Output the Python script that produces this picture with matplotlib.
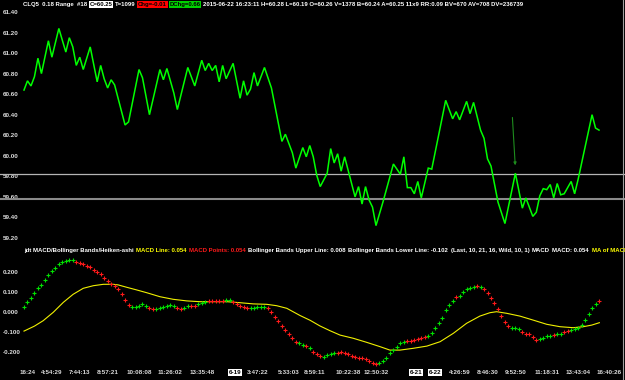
"""CLQ5 レンジ足チャート + MACD/ボリンジャー/平均足 パネルの再現。"""
import matplotlib
matplotlib.use("Agg")
import matplotlib.pyplot as plt
import numpy as np
from matplotlib.lines import Line2D

plt.rcParams["font.family"] = ["Liberation Sans", "DejaVu Sans"]
plt.rcParams["font.weight"] = "bold"

W, H = 625, 380
BAR_PX = 3.485      # 1本あたりのピクセル幅
FIRST_BAR_PX = 24   # 最初の足の x 位置

# --- 上段: 終値ライン（折れ点のみ） ---
price_bar = [0, 1, 2, 3, 4, 5, 7, 8, 10, 12, 13, 14, 15, 16, 17, 19, 21, 22, 23, 24,
             25, 26, 29, 30, 33, 34, 36, 39, 40, 41, 43, 44, 47, 49, 51, 52, 53, 54, 55, 56,
             57, 58, 60, 62, 63, 64, 65, 66, 67, 69, 71, 74, 75, 77, 78, 80, 81, 82, 83, 84,
             85, 87, 88, 89, 90, 91, 92, 95, 96, 97, 98, 99, 100, 101, 103, 106, 108, 109, 110, 111,
             112, 113, 114, 116, 117, 121, 123, 124, 125, 127, 128, 129, 131, 132, 133, 134, 136, 138, 141, 143,
             144, 146, 147, 148, 149, 150, 151, 152, 153, 154, 155, 157, 158, 159, 163, 164, 165]
price_close = [60.64, 60.73, 60.68, 60.77, 60.95, 60.80, 61.12, 60.96, 61.24, 61.01, 61.15, 61.06, 60.88, 60.96, 60.84, 61.06, 60.72, 60.88, 60.75, 60.66,
               60.74, 60.69, 60.30, 60.33, 60.84, 60.76, 60.40, 60.84, 60.74, 60.85, 60.61, 60.45, 60.86, 60.68, 60.93, 60.83, 60.90, 60.83, 60.88, 60.72,
               60.88, 60.75, 60.90, 60.56, 60.73, 60.59, 60.65, 60.81, 60.68, 60.86, 60.66, 60.14, 60.21, 60.03, 59.88, 60.08, 59.99, 60.10, 59.99, 59.81,
               59.70, 59.83, 60.07, 59.93, 60.02, 59.85, 59.99, 59.60, 59.70, 59.53, 59.70, 59.57, 59.50, 59.32, 59.55, 59.92, 59.82, 59.99, 59.69, 59.69,
               59.63, 59.75, 59.59, 59.88, 59.87, 60.54, 60.36, 60.43, 60.35, 60.53, 60.41, 60.52, 60.25, 60.17, 59.97, 59.90, 59.55, 59.34, 59.83, 59.49,
               59.59, 59.41, 59.45, 59.61, 59.68, 59.67, 59.72, 59.59, 59.73, 59.62, 59.63, 59.75, 59.63, 59.77, 60.40, 60.27, 60.25]
band_levels = [59.82, 59.58]
alert_bar = [140.1, 141.0]
alert_price = [60.40, 59.88]
price_ticks = [59.20, 59.40, 59.60, 59.80, 60.00, 60.20, 60.40, 60.60, 60.80, 61.00, 61.20, 61.40]

# --- 下段: MACD ポイント（足ごと）と色 ---
macd_points = [0.022, 0.050, 0.070, 0.095, 0.117, 0.135, 0.159, 0.184, 0.205, 0.220,
               0.237, 0.250, 0.255, 0.259, 0.259, 0.250, 0.245, 0.239, 0.229, 0.222,
               0.210, 0.197, 0.189, 0.170, 0.154, 0.141, 0.129, 0.112, 0.087, 0.059,
               0.034, 0.025, 0.025, 0.030, 0.037, 0.029, 0.017, 0.012, 0.012, 0.017,
               0.022, 0.030, 0.034, 0.030, 0.017, 0.012, 0.020, 0.029, 0.030, 0.030,
               0.037, 0.045, 0.050, 0.054, 0.055, 0.055, 0.055, 0.055, 0.057, 0.059,
               0.050, 0.039, 0.029, 0.022, 0.017, 0.020, 0.020, 0.022, 0.022, 0.022,
               0.017, 0.000, -0.025, -0.047, -0.070, -0.092, -0.112, -0.133, -0.153, -0.158,
               -0.167, -0.172, -0.183, -0.200, -0.213, -0.222, -0.225, -0.217, -0.213, -0.208,
               -0.208, -0.203, -0.205, -0.210, -0.220, -0.225, -0.233, -0.233, -0.238, -0.247,
               -0.258, -0.262, -0.258, -0.247, -0.233, -0.208, -0.192, -0.178, -0.158, -0.150,
               -0.145, -0.145, -0.142, -0.137, -0.133, -0.128, -0.122, -0.105, -0.083, -0.058,
               -0.030, 0.009, 0.034, 0.055, 0.075, 0.080, 0.097, 0.112, 0.120, 0.125,
               0.130, 0.122, 0.112, 0.092, 0.070, 0.042, 0.012, -0.022, -0.050, -0.072,
               -0.080, -0.080, -0.087, -0.103, -0.112, -0.113, -0.128, -0.142, -0.137, -0.130,
               -0.122, -0.122, -0.117, -0.113, -0.113, -0.103, -0.097, -0.092, -0.088, -0.080,
               -0.067, -0.042, -0.013, 0.017, 0.039, 0.055]
# g = 陽線(緑), r = 陰線(赤)
macd_colors = ("ggggggggggggggg" "rrrrrrrrrrrrrrrr" "ggggg" "rr" "gggggg" "rr" "gg" "rr"
               "ggg" "rrrrr" "gg" "rrrrr" "ggggg" "rrrrrrrrr" "gg" "r" "g" "rrr" "gggg"
               "rrrrrrrrrrrr" "gggggggg" "rrrrrr" "gggggggg" "r" "ggggg" "r" "g" "rrrrrrrr"
               "ggg" "rrrrr" "gggg" "r" "gg" "rr" "gggggggg" "r")

# MACD のシグナル（MA）ライン
signal_bar = [0, 3, 5.5, 8.4, 11.3, 14.1, 17, 19.9, 22.8, 25.6, 27, 29.5, 32.3, 35.2, 39,
              42.8, 46.7, 50.5, 54.3, 58.2, 62, 65.8, 69.6, 72.5, 75.4, 79.2, 82.1, 84.9, 87.8,
              90.7, 94.5, 98.3, 102.2, 105, 107.9, 111.7, 115.6, 119.4, 123.2, 127, 130.8, 133.7,
              135.6, 138.5, 142.3, 146.1, 150, 153.8, 157.6, 160.5, 162.9, 165.1]
signal_val = [-0.097, -0.072, -0.045, -0.003, 0.047, 0.087, 0.117, 0.130, 0.137, 0.137, 0.134,
              0.122, 0.109, 0.095, 0.075, 0.062, 0.054, 0.050, 0.050, 0.050, 0.045, 0.039, 0.037,
              0.030, 0.017, -0.019, -0.043, -0.071, -0.095, -0.117, -0.133, -0.153, -0.175, -0.192,
              -0.192, -0.183, -0.172, -0.150, -0.108, -0.058, -0.022, -0.005, 0.000, -0.008, -0.022,
              -0.042, -0.063, -0.075, -0.080, -0.075, -0.067, -0.055]
macd_ticks = [-0.2, -0.1, 0.0, 0.1, 0.2]

time_ticks = [1, 8, 16, 24, 33, 42, 51, 60.5, 67, 76, 83.5, 93, 101, 112.5, 118, 125, 133,
              141, 150, 159, 168]
time_labels = ["16:24", "4:54:29", "7:44:13", "8:57:21", "10:08:08", "11:26:02", "13:35:48",
               "6-19", "3:47:22", "5:33:03", "8:59:11", "10:22:38", "12:50:32", "6-21", "6-22",
               "4:26:59", "8:46:30", "9:52:50", "11:18:31", "13:43:04", "16:40:26"]
date_labels = {"6-19", "6-21", "6-22"}

FS = 4.5        # 軸ラベル
FS_ROW = 4.3    # ヘッダー・タイトル行
LABEL_COLOR = "#dcdcdc"


def px_axes(fig, top, bottom):
    """ピクセル (上端, 下端) から全幅の axes を作る。"""
    ax = fig.add_axes([0, 1 - bottom / H, 1, (bottom - top) / H])
    ax.set_facecolor("black")
    for sp in ax.spines.values():
        sp.set_visible(False)
    ax.set_xlim(-FIRST_BAR_PX / BAR_PX, (W - FIRST_BAR_PX) / BAR_PX)
    return ax


def style_yaxis(ax, ticks, fmt):
    ax.set_yticks(ticks)
    ax.set_yticklabels([fmt.format(t) for t in ticks])
    ax.tick_params(axis="y", length=0, pad=-2, labelsize=FS, labelcolor=LABEL_COLOR)
    for lbl in ax.get_yticklabels():
        lbl.set_ha("left")


def text_row(fig, x0, y, pieces, gap=2.5):
    """色ごとのテキスト片を左から順に並べる。"""
    renderer = fig.canvas.get_renderer()
    x = x0
    for s, color, bg in pieces:
        kw = {}
        if bg:
            kw["bbox"] = dict(boxstyle="square,pad=0.12", fc=bg, ec="none")
        t = fig.text(x / W, 1 - y / H, s, color=color, fontsize=FS_ROW, fontweight="bold",
                     ha="left", va="center", **kw)
        x += t.get_window_extent(renderer).width + gap


fig = plt.figure(figsize=(W / 100, H / 100), dpi=100, facecolor="black")

# 上段
ax1 = px_axes(fig, 0, 247)
ax1.set_ylim(61.40 - 235 / 102.7, 61.40 + 12 / 102.7)
ax1.axhline(band_levels[0], color="#b4b4b4", lw=0.9)
ax1.axhline(band_levels[1], color="#8a8a8a", lw=1.5)
ax1.plot(price_bar, price_close, color="#00ff00", lw=1.1, solid_joinstyle="miter")
ax1.annotate("", xy=(alert_bar[1], alert_price[1]), xytext=(alert_bar[0], alert_price[0]),
             arrowprops=dict(arrowstyle="-|>", color="#1e8c1e", lw=0.8, mutation_scale=4))
style_yaxis(ax1, price_ticks, "{:.2f}")
ax1.set_xticks([])

# 下段
ax2 = px_axes(fig, 248, 366)
ax2.set_ylim((311.7 - 366) / 200, (311.7 - 248) / 200)
ax2.plot(signal_bar, signal_val, color="#f0f000", lw=0.8)
bars = np.arange(len(macd_points))
vals = np.array(macd_points)
cols = np.array(list(macd_colors))
ax2.plot(bars[cols == "g"], vals[cols == "g"], ls="none", marker="+", ms=2.5, mew=0.8, color="#00e000")
ax2.plot(bars[cols == "r"], vals[cols == "r"], ls="none", marker="+", ms=2.5, mew=0.8, color="#ff1a1a")
style_yaxis(ax2, macd_ticks, "{:.3f}")
ax2.set_xticks(time_ticks)
ax2.set_xticklabels(time_labels)
ax2.tick_params(axis="x", length=0, pad=3, labelsize=FS, labelcolor=LABEL_COLOR)
for lbl in ax2.get_xticklabels():
    if lbl.get_text() in date_labels:
        lbl.set_color("black")
        lbl.set_bbox(dict(boxstyle="square,pad=0.15", fc="white", ec="none"))

# ヘッダー行
text_row(fig, 23, 4.5, [
    ("CLQ5  0.18 Range  #18", "white", None),
    ("C=60.25", "black", "white"),
    ("T=1099", "white", None),
    ("Chg=-0.01", "black", "#ff0000"),
    ("DChg=0.66", "black", "#00d000"),
    ("2015-06-22 16:23:11 H=60.28 L=60.19 O=60.26 V=1378 B=60.24 A=60.25 11x9 RR:0.09 "
     "BV=670 AV=708 DV=236739", "white", None),
])

# 下段タイトル行（右端の MA 表示は元画像同様に途中で切れる）
text_row(fig, 24, 250, [
    ("jdt MACD/Bollinger Bands/Heiken-ashi", "white", None),
    ("MACD Line: 0.054", "#ffff00", None),
    ("MACD Points: 0.054", "#ff1a1a", None),
    ("Bollinger Bands Upper Line: 0.008", "white", None),
    ("Bollinger Bands Lower Line: -0.102", "white", None),
    ("(Last, 10, 21, 16, Wild, 10, 1)", "white", None),
    ("MACD", "white", None),
    ("MACD: 0.054", "white", None),
    ("MA of MACD: -0.055", "#ffff00", None),
])

# 右端の枠線
fig.add_artist(Line2D([622.5 / W] * 2, [0, 1], transform=fig.transFigure,
                      color="#a0a0a0", lw=0.8))

fig.savefig("out.png", dpi=100, facecolor="black")
